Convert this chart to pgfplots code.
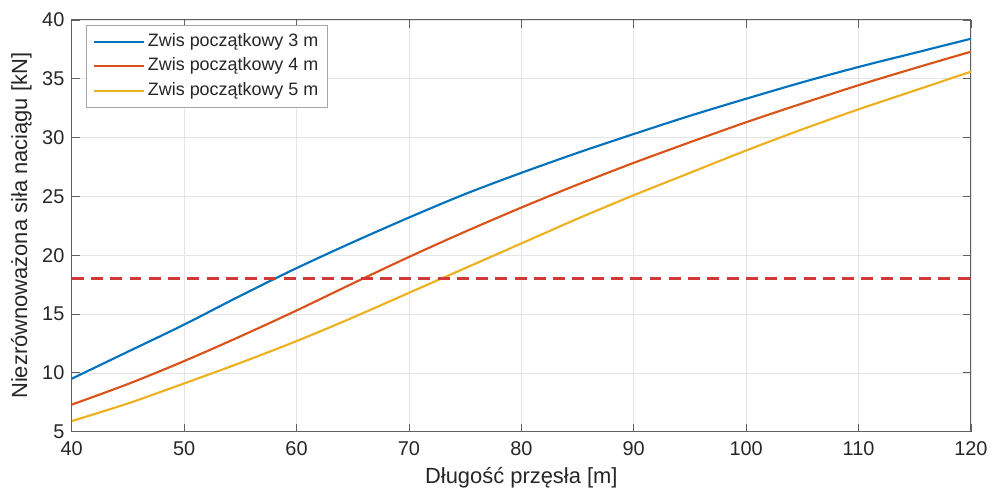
\documentclass[border=0pt]{standalone}
\usepackage{pgfplots}
\pgfplotsset{compat=1.18}
\usepackage{fontspec}
\setmainfont{Liberation Sans}
\definecolor{mblue}{rgb}{0,0.447,0.741}
\definecolor{morange}{rgb}{0.85,0.325,0.098}
\definecolor{myellow}{rgb}{0.929,0.694,0.125}
\definecolor{mred}{rgb}{0.82,0.22,0.22}
\definecolor{axgray}{rgb}{0.15,0.15,0.15}
\begin{document}
\begin{tikzpicture}
\begin{axis}[
  name=ax,
  scale only axis,
  width=677pt, height=310pt,
  xmin=40, xmax=120, ymin=5, ymax=40,
  xtick={40,50,...,120}, ytick={5,10,...,40},
  grid=major,
  major grid style={draw=gray!20, line width=0.5pt},
  axis line style={draw=gray!75!black, line width=0.7pt},
  tick style={draw=gray!75!black, line width=0.6pt},
  tick align=inside,
  major tick length=6pt,
  tick label style={font=\fontsize{15}{17}\selectfont, text=axgray},
  xticklabel style={yshift=-4pt},
  yticklabel style={xshift=-2pt},
  /pgf/number format/assume math mode=true,
  xlabel={Długość przęsła [m]},
  ylabel={Niezrównoważona siła naciągu [kN]},
  label style={font=\fontsize{16.5}{19}\selectfont, text=axgray},
  xlabel style={at={(axis description cs:0.5,0)}, anchor=north, yshift=-23pt},
  ylabel style={at={(axis description cs:-0.0561,0.5)}, anchor=center},
  legend style={at={(axis description cs:0.0155,0.988)}, anchor=north west,
    draw=gray!70, line width=0.6pt,
    font=\fontsize{13.5}{16}\selectfont, text=axgray,
    nodes={inner sep=2pt, text height=10pt, text depth=3pt},
    row sep=1.4pt, inner xsep=5pt, inner ysep=4pt},
  legend cell align=left,
  legend image code/.code={\draw[#1] (0pt,0pt) -- (38pt,0pt);},
  clip=true
]
\addplot[mblue, line width=1.6pt, smooth] coordinates {
(40,9.5) (45,11.8) (50,14.1) (55,16.55) (60,18.9) (65,21.1) (70,23.2) (75,25.2)
(80,27.0) (85,28.7) (90,30.3) (95,31.85) (100,33.3) (105,34.7) (110,36.0) (115,37.2) (120,38.4)};
\addlegendentry{Zwis początkowy 3 m}
\addplot[morange, line width=1.6pt, smooth] coordinates {
(40,7.3) (45,9.05) (50,11.0) (55,13.1) (60,15.3) (65,17.6) (70,19.85) (75,22.0)
(80,24.05) (85,26.0) (90,27.85) (95,29.6) (100,31.3) (105,32.9) (110,34.45) (115,35.9) (120,37.3)};
\addlegendentry{Zwis początkowy 4 m}
\addplot[myellow, line width=1.6pt, smooth] coordinates {
(40,5.9) (45,7.4) (50,9.1) (55,10.85) (60,12.7) (65,14.7) (70,16.8) (75,18.9)
(80,21.0) (85,23.1) (90,25.1) (95,27.0) (100,28.9) (105,30.7) (110,32.4) (115,34.0) (120,35.6)};
\addlegendentry{Zwis początkowy 5 m}
\addplot[mred, line width=2.2pt, dash pattern=on 9pt off 5.5pt, forget plot] coordinates {(40,18) (120,18)};
\end{axis}
\path ([shift={(-54pt,-48.75pt)}]ax.south west) rectangle ([shift={(12.75pt,15pt)}]ax.north east);
\end{tikzpicture}
\end{document}
